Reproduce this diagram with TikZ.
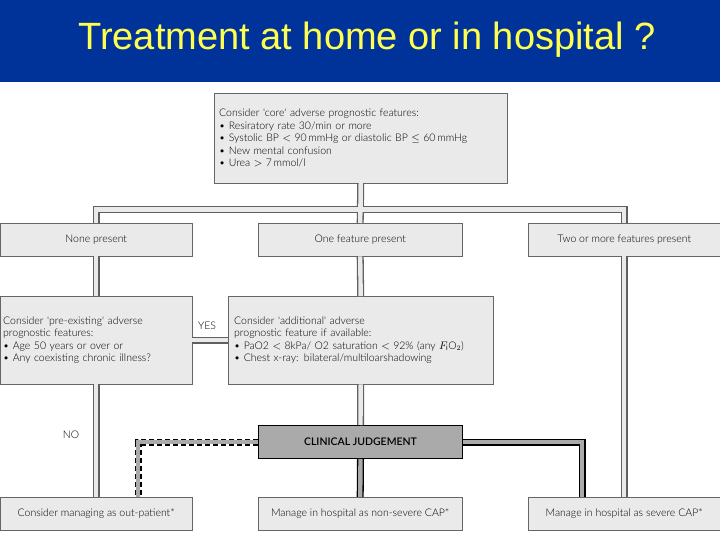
\documentclass[tikz,border=0pt]{standalone}
\usepackage{fontspec}
\setmainfont{Liberation Sans}
\newfontfamily\boxfont{Lato Light}
\usetikzlibrary{positioning}
\definecolor{titleblue}{RGB}{0,51,153}
\definecolor{titleyellow}{RGB}{255,255,80}
\definecolor{boxgrey}{RGB}{234,234,234}
\definecolor{cjgrey}{RGB}{170,170,170}
\begin{document}
\begin{tikzpicture}[x=1pt,y=-1pt,
box/.style={
  draw=gray!80!black,
  fill=boxgrey,
  font={\boxfont\fontsize{10.5pt}{12.5}\selectfont},
  anchor=north west,
  inner sep=4pt},
small/.style={
  box,
  minimum height=33pt,
  align=center},
big/.style={
  box,
  minimum height=88pt,
  align=left},
pipe/.style={
  draw=gray!75!black,
  line width=7pt},
pipein/.style={
  draw=boxgrey,
  line width=4.4pt},
dark/.style={
  draw=black,
  line width=7pt},
darkin/.style={
  draw=cjgrey,
  line width=4.4pt},
]
\useasboundingbox (0,0) rectangle (720,540);
\fill[white] (0,0) rectangle (720,540);
\fill[titleblue] (0,0) rectangle (720,82);
\node[titleyellow,font=\fontsize{38pt}{44}\selectfont] (title) at (367,40) {Treatment at home or in hospital ?};

\node[box,minimum width=293pt,minimum height=90pt,align=left,text width=283pt,inner sep=5pt] (core) at (214,93)
{Consider 'core' adverse prognostic features:\\
\textbullet\ Resiratory rate 30/min or more\\
\textbullet\ Systolic BP $<$ 90\,mmHg or diastolic BP $\leq$ 60\,mmHg\\
\textbullet\ New mental confusion\\
\textbullet\ Urea $>$ 7\,mmol/l};

\node[small,minimum width=192pt] (none) at (0,223) {None present};
\node[small,minimum width=204pt] (one) at (258,223) {One feature present};
\node[small,minimum width=192pt] (two) at (528,223) {Two or more features present};

\node[big,minimum width=192pt,text width=186pt,inner sep=3pt] (pre) at (0,296)
{Consider 'pre-existing' adverse\\ prognostic features:\\
\textbullet\ Age 50 years or over or\\
\textbullet\ Any coexisting chronic illness?};
\node[big,minimum width=265pt,text width=253pt,inner sep=6pt] (add) at (228,296)
{Consider 'additional' adverse\\ prognostic feature if available:\\
\textbullet\ PaO2 $<$ 8kPa/ O2 saturation $<$ 92\% (any $F_{\mathrm{i}}$O$_2$)\\
\textbullet\ Chest x-ray: bilateral/multiloarshadowing};

\node[small,minimum width=204pt,fill=cjgrey,draw=black,line width=1pt,
  font={\boxfont\bfseries\fontsize{10.5pt}{12.5}\selectfont}] (cj) at (258,425) {CLINICAL JUDGEMENT};

\node[small,minimum width=192pt] (out) at (0,497) {Consider managing as out-patient*};
\node[small,minimum width=204pt] (nonsev) at (258,497) {Manage in hospital as non-severe CAP*};
\node[small,minimum width=192pt] (sev) at (528,497) {Manage in hospital as severe CAP*};

\node[font={\boxfont\fontsize{10.5pt}{12.5}\selectfont}] (yes) at (207,326) {YES};
\node[font={\boxfont\fontsize{10.5pt}{12.5}\selectfont}] (no) at (71,435) {NO};

% pipes
\foreach \s in {pipe,pipein}{
  \draw[\s] (core.south) -- ++(0,26) -| (none.north);
  \draw[\s] (core.south) -- ++(0,26) -| (two.north);
  \draw[\s] (core.south) -- (one.north);
  \draw[\s] (none.south) -- (pre.north);
  \draw[\s] (pre.south) -- (out.north);
  \draw[\s] (one.south) -- (add.north);
  \draw[\s] (add.south) -- (cj.north);
  \draw[\s] (two.south) -- (sev.north);
  \draw[\s] (pre.east |- 0,340) -- (add.west |- 0,340);
}
\foreach \s in {dark,darkin}{
  \draw[\s] (cj.south) -- (nonsev.north);
  \draw[\s] (cj.east) -| (sev.north -| 582,0);
}
\draw[black,line width=7pt,dash pattern=on 5pt off 3pt] (cj.west) -| (out.north -| 138,0);
\draw[cjgrey,line width=4.4pt] (cj.west) -| (out.north -| 138,0);
\end{tikzpicture}
\end{document}
